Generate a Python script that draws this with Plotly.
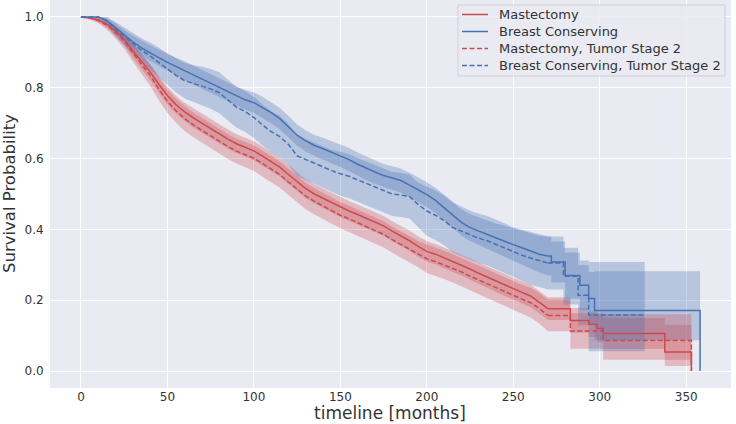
import plotly.graph_objects as go

# ---------------- data ----------------
grid = [0,5,10,15,20,25,30,35,40,45,50,55,60,65,70,75,80,85,90,95,100,105,110,115,120,125,
        130,135,140,145,150,155,160,165,170,175,180,185,190,195,200,205,210,215,220,225,230,
        235,240,245,250,255,260,265,270]

# Mastectomy
mast_t = grid + [283, 293.6, 298.4, 302, 337.6, 353]
mast_s = [1.0,0.998,0.992,0.980,0.960,0.937,0.905,0.875,0.845,0.810,0.778,0.752,0.732,0.715,0.700,
          0.684,0.668,0.655,0.642,0.632,0.622,0.607,0.592,0.576,0.555,0.534,0.515,0.500,0.488,0.475,
          0.462,0.452,0.442,0.431,0.421,0.410,0.395,0.382,0.368,0.352,0.338,0.330,0.320,0.310,0.300,
          0.288,0.276,0.265,0.253,0.243,0.233,0.222,0.212,0.195,0.176,
          0.143,0.132,0.120,0.106,0.054,0.0]
mast_lo = [1.0,0.995,0.986,0.970,0.946,0.920,0.885,0.853,0.822,0.786,0.753,0.727,0.706,0.688,0.673,
           0.657,0.641,0.628,0.615,0.605,0.595,0.580,0.565,0.549,0.528,0.507,0.488,0.473,0.461,0.448,
           0.434,0.424,0.414,0.403,0.393,0.382,0.367,0.354,0.339,0.323,0.309,0.301,0.291,0.281,0.270,
           0.258,0.246,0.235,0.222,0.212,0.202,0.191,0.180,0.163,0.144,
           0.108,0.096,0.082,0.062,0.014,0.014]
mast_hi = [1.0,1.0,0.998,0.990,0.974,0.954,0.925,0.897,0.868,0.834,0.803,0.777,0.758,0.742,0.727,
           0.711,0.695,0.682,0.669,0.659,0.649,0.634,0.619,0.603,0.582,0.561,0.542,0.527,0.515,0.502,
           0.490,0.480,0.470,0.459,0.449,0.438,0.423,0.410,0.397,0.381,0.367,0.359,0.349,0.339,0.330,
           0.318,0.306,0.295,0.284,0.274,0.264,0.253,0.244,0.227,0.208,
           0.178,0.168,0.158,0.150,0.130,0.130]

# Breast Conserving
bc_t = grid + [272, 280, 288.5, 293.6, 297, 358]
bc_s = [1.0,1.0,1.0,0.990,0.970,0.948,0.930,0.913,0.898,0.885,0.872,0.860,0.848,0.836,0.824,
        0.812,0.800,0.788,0.776,0.766,0.758,0.745,0.730,0.713,0.690,0.666,0.650,0.637,0.628,0.618,
        0.608,0.597,0.584,0.572,0.562,0.552,0.545,0.538,0.525,0.512,0.498,0.482,0.462,0.442,0.420,
        0.405,0.395,0.385,0.375,0.366,0.357,0.348,0.338,0.330,0.325,
        0.308,0.270,0.242,0.205,0.171,0.0]
bc_lo = [1.0,1.0,1.0,0.982,0.958,0.933,0.912,0.893,0.876,0.862,0.848,0.835,0.821,0.809,0.797,
         0.785,0.773,0.761,0.749,0.738,0.729,0.715,0.700,0.683,0.660,0.636,0.620,0.607,0.597,0.587,
         0.576,0.564,0.551,0.539,0.529,0.519,0.511,0.504,0.490,0.477,0.463,0.446,0.425,0.405,0.383,
         0.367,0.356,0.345,0.333,0.322,0.311,0.300,0.288,0.278,0.270,
         0.250,0.205,0.172,0.130,0.087,0.087]
bc_hi = [1.0,1.0,1.0,0.998,0.982,0.963,0.948,0.933,0.920,0.908,0.896,0.885,0.875,0.863,0.851,
         0.839,0.827,0.815,0.803,0.794,0.787,0.775,0.760,0.743,0.720,0.696,0.680,0.667,0.659,0.649,
         0.640,0.630,0.617,0.605,0.595,0.585,0.579,0.572,0.560,0.547,0.533,0.518,0.499,0.479,0.457,
         0.443,0.434,0.425,0.417,0.410,0.403,0.396,0.388,0.382,0.380,
         0.366,0.335,0.312,0.280,0.282,0.282]

# Mastectomy, Tumor Stage 2
mast2_t = grid + [283, 302, 353]
mast2_s = [1.0,0.997,0.990,0.977,0.956,0.932,0.899,0.867,0.835,0.797,0.762,0.735,0.713,0.695,0.680,
           0.664,0.648,0.634,0.621,0.611,0.601,0.586,0.571,0.555,0.534,0.513,0.494,0.479,0.466,0.453,
           0.440,0.430,0.419,0.408,0.398,0.386,0.371,0.358,0.345,0.330,0.317,0.309,0.300,0.290,0.280,
           0.268,0.257,0.246,0.234,0.224,0.214,0.203,0.193,0.177,0.157,
           0.113,0.086,0.0]
mast2_lo = [1.0,0.993,0.982,0.965,0.939,0.911,0.874,0.839,0.805,0.765,0.729,0.701,0.678,0.660,0.645,
            0.629,0.613,0.599,0.586,0.576,0.565,0.549,0.534,0.518,0.497,0.476,0.457,0.442,0.429,0.416,
            0.403,0.393,0.382,0.371,0.361,0.349,0.334,0.321,0.308,0.293,0.277,0.269,0.260,0.250,0.240,
            0.228,0.217,0.206,0.194,0.184,0.174,0.162,0.151,0.134,0.112,
            0.063,0.032,0.032]
mast2_hi = [1.0,1.0,0.998,0.989,0.973,0.953,0.924,0.895,0.865,0.829,0.795,0.769,0.748,0.730,0.715,
            0.699,0.683,0.669,0.656,0.646,0.637,0.623,0.608,0.592,0.571,0.550,0.531,0.516,0.503,0.490,
            0.477,0.467,0.456,0.445,0.435,0.423,0.408,0.395,0.382,0.367,0.357,0.349,0.340,0.330,0.320,
            0.308,0.297,0.286,0.274,0.264,0.254,0.244,0.235,0.220,0.202,
            0.163,0.160,0.160]

# Breast Conserving, Tumor Stage 2
bc2_t = grid + [279, 287.5, 293.6, 326]
bc2_s = [1.0,1.0,1.0,0.990,0.966,0.945,0.925,0.906,0.890,0.872,0.852,0.835,0.820,0.812,0.806,
         0.797,0.786,0.765,0.745,0.733,0.716,0.695,0.676,0.662,0.640,0.608,0.597,0.586,0.576,0.566,
         0.557,0.550,0.540,0.530,0.518,0.508,0.500,0.497,0.493,0.470,0.452,0.440,0.425,0.405,0.395,
         0.383,0.375,0.368,0.358,0.346,0.336,0.327,0.319,0.312,0.305,
         0.268,0.214,0.158,0.158]
bc2_lo = [1.0,1.0,1.0,0.980,0.946,0.920,0.895,0.872,0.852,0.830,0.807,0.787,0.770,0.760,0.752,
          0.741,0.728,0.707,0.687,0.675,0.658,0.637,0.618,0.604,0.582,0.550,0.539,0.528,0.518,0.508,
          0.495,0.488,0.478,0.468,0.456,0.446,0.438,0.435,0.431,0.406,0.382,0.370,0.355,0.335,0.325,
          0.313,0.305,0.298,0.288,0.276,0.266,0.254,0.244,0.237,0.230,
          0.188,0.129,0.056,0.056]
bc2_hi = [1.0,1.0,1.0,1.0,0.986,0.970,0.955,0.940,0.928,0.914,0.897,0.883,0.870,0.864,0.860,
          0.853,0.844,0.823,0.803,0.791,0.774,0.753,0.734,0.720,0.698,0.666,0.655,0.644,0.634,0.624,
          0.619,0.612,0.602,0.592,0.580,0.570,0.562,0.559,0.555,0.532,0.522,0.510,0.495,0.475,0.465,
          0.453,0.445,0.438,0.428,0.416,0.406,0.400,0.394,0.387,0.380,
          0.348,0.299,0.308,0.308]

x_ticks = [0, 50, 100, 150, 200, 250, 300, 350]
y_ticks = [0.0, 0.2, 0.4, 0.6, 0.8, 1.0]

# ---------------- style ----------------
RED = "#CC4A4F"
BLUE = "#4672B4"
RED_FILL = "rgba(204,74,79,0.3)"
BLUE_FILL = "rgba(70,114,180,0.3)"
DASH = "5px,2.5px"
FONT = "DejaVu Sans"
TXT = "#333333"

W, H = 736, 424
ML, MR, MT, MB = 50, 5, 0, 36
PW, PH = W - ML - MR, H - MT - MB
SPLIT = len(grid) - 1   # densely sampled part is drawn smooth, sparse tail as steps


def px(x):
    return (x - ML) / PW


def py(y):
    return 1 - (y - MT) / PH


series = [
    ("Mastectomy", mast_t, mast_s, mast_lo, mast_hi, RED, RED_FILL, "solid"),
    ("Breast Conserving", bc_t, bc_s, bc_lo, bc_hi, BLUE, BLUE_FILL, "solid"),
    ("Mastectomy, Tumor Stage 2", mast2_t, mast2_s, mast2_lo, mast2_hi, RED, RED_FILL, DASH),
    ("Breast Conserving, Tumor Stage 2", bc2_t, bc2_s, bc2_lo, bc2_hi, BLUE, BLUE_FILL, DASH),
]

parts = [(slice(0, SPLIT + 1), "linear"), (slice(SPLIT, None), "hv")]

fig = go.Figure()
for name, t, s, lo, hi, col, fcol, dash in series:
    for sl, shp in parts:
        fig.add_trace(go.Scatter(x=t[sl], y=lo[sl], mode="lines", line=dict(width=0, shape=shp),
                                 showlegend=False, hoverinfo="skip"))
        fig.add_trace(go.Scatter(x=t[sl], y=hi[sl], mode="lines", line=dict(width=0, shape=shp),
                                 fill="tonexty", fillcolor=fcol, showlegend=False, hoverinfo="skip"))
for name, t, s, lo, hi, col, fcol, dash in series:
    for sl, shp in parts:
        fig.add_trace(go.Scatter(x=t[sl], y=s[sl], mode="lines", name=name, showlegend=False,
                                 line=dict(color=col, width=1.5, shape=shp, dash=dash)))

# legend drawn by hand (matplotlib-like compact layout)
shapes = [dict(type="rect", xref="paper", yref="paper", x0=px(458), x1=px(725), y0=py(76), y1=py(5),
               fillcolor="rgba(234,234,242,0.85)", line=dict(color="#CFCFD6", width=1), layer="above")]
annotations = []
rows = [14.5, 31.5, 48.5, 65.5]
for (name, t, s, lo, hi, col, fcol, dash), ry in zip(series, rows):
    shapes.append(dict(type="line", xref="paper", yref="paper", x0=px(462), x1=px(488),
                       y0=py(ry), y1=py(ry), line=dict(color=col, width=1.5, dash=dash), layer="above"))
    annotations.append(dict(text=name, xref="paper", yref="paper", x=px(497), y=py(ry),
                            xanchor="left", yanchor="middle", showarrow=False,
                            font=dict(family=FONT, size=13, color=TXT)))

annotations += [
    dict(text="timeline [months]", xref="paper", yref="paper", x=px(390), y=py(413),
         xanchor="center", yanchor="middle", showarrow=False,
         font=dict(family=FONT, size=17, color=TXT)),
    dict(text="Survival Probability", xref="paper", yref="paper", x=px(9), y=0.5,
         xanchor="center", yanchor="middle", textangle=-90, showarrow=False,
         font=dict(family=FONT, size=16.5, color=TXT)),
]

fig.update_layout(
    width=W, height=H,
    margin=dict(l=ML, r=MR, t=MT, b=MB, autoexpand=False),
    paper_bgcolor="white", plot_bgcolor="#EAEAF2",
    font=dict(family=FONT, size=12, color=TXT),
    showlegend=False,
    xaxis=dict(range=[-17.9, 375.9], tickvals=x_ticks, showgrid=True, gridcolor="white",
               gridwidth=1.3, zeroline=False, showline=False, ticks="", ticklen=0,
               automargin=False, tickfont=dict(size=12, color=TXT)),
    yaxis=dict(range=[-0.048, 1.048], tickvals=y_ticks, tickformat=".1f", showgrid=True,
               gridcolor="white", gridwidth=1.3, zeroline=False, showline=False,
               ticks="outside", ticklen=3, tickcolor="rgba(0,0,0,0)", automargin=False,
               tickfont=dict(size=12, color=TXT)),
    shapes=shapes,
    annotations=annotations,
)

fig.write_html("out.html", config={"displayModeBar": False},
               post_script="document.body.style.margin='0px';document.body.style.overflow='hidden';")
